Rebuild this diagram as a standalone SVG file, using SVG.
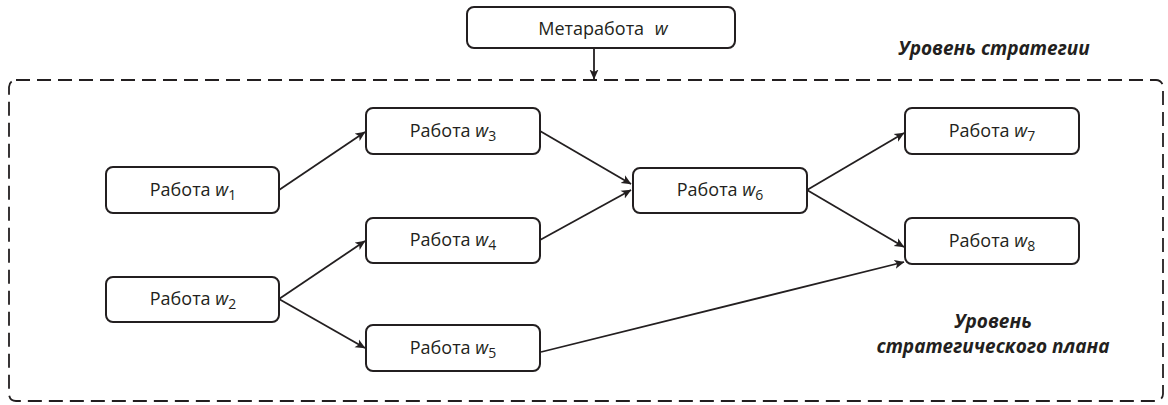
<svg xmlns="http://www.w3.org/2000/svg" width="1168" height="405" viewBox="0 0 1168 405">
<style>
.box{fill:#fff;stroke:#231f20;stroke-width:2}
.lbl{font-family:"Open Sans","Liberation Sans",sans-serif;font-size:18px;fill:#231f20}
.ital{font-style:italic}
.sub{font-size:14px}
.lvl{font-family:"Open Sans","Liberation Sans",sans-serif;font-size:19px;font-weight:bold;font-style:italic;fill:#231f20}
.con{stroke:#231f20;stroke-width:1.8;fill:none;marker-end:url(#ah)}
.frame{fill:none;stroke:#231f20;stroke-width:1.8;stroke-dasharray:14 7}
</style>
<defs>
<marker id="ah" viewBox="0 0 10 10" refX="9.5" refY="5" markerWidth="10" markerHeight="10" orient="auto" markerUnits="userSpaceOnUse">
<path d="M0,0.5 L10,5 L0,9.5 L2.5,5 Z" fill="#231f20"/>
</marker>
</defs>
<rect id="frame" class="frame" x="9" y="80" width="1154" height="321" rx="7"/>
<g id="connectors">
<line class="con" x1="594" y1="48" x2="594" y2="79"/>
<line class="con" x1="279" y1="190" x2="365" y2="132"/>
<line class="con" x1="279" y1="299" x2="365" y2="241"/>
<line class="con" x1="279" y1="299" x2="365" y2="348"/>
<line class="con" x1="540" y1="131" x2="631" y2="184"/>
<line class="con" x1="540" y1="240" x2="631" y2="190"/>
<line class="con" x1="807" y1="190" x2="904" y2="133"/>
<line class="con" x1="807" y1="190" x2="904" y2="247"/>
<line class="con" x1="541" y1="352" x2="904" y2="262"/>
</g>
<g id="meta">
<rect class="box" x="467" y="7" width="268" height="41" rx="7"/>
<text class="lbl" x="603" y="35" text-anchor="middle">Метаработа <tspan class="ital" dx="6">w</tspan></text>
</g>
<g id="w1">
<rect class="box" x="106" y="167" width="173" height="46" rx="7"/>
<text class="lbl" x="193" y="196" text-anchor="middle">Работа <tspan class="ital">w</tspan><tspan class="sub" dy="4">1</tspan></text>
</g>
<g id="w2">
<rect class="box" x="106" y="277" width="173" height="45" rx="7"/>
<text class="lbl" x="193" y="305" text-anchor="middle">Работа <tspan class="ital">w</tspan><tspan class="sub" dy="4">2</tspan></text>
</g>
<g id="w3">
<rect class="box" x="366" y="108" width="174" height="46" rx="7"/>
<text class="lbl" x="453" y="137" text-anchor="middle">Работа <tspan class="ital">w</tspan><tspan class="sub" dy="4">3</tspan></text>
</g>
<g id="w4">
<rect class="box" x="366" y="218" width="174" height="45" rx="7"/>
<text class="lbl" x="453" y="246" text-anchor="middle">Работа <tspan class="ital">w</tspan><tspan class="sub" dy="4">4</tspan></text>
</g>
<g id="w5">
<rect class="box" x="366" y="325" width="174" height="46" rx="7"/>
<text class="lbl" x="453" y="354" text-anchor="middle">Работа <tspan class="ital">w</tspan><tspan class="sub" dy="4">5</tspan></text>
</g>
<g id="w6">
<rect class="box" x="633" y="168" width="174" height="45" rx="7"/>
<text class="lbl" x="720" y="196" text-anchor="middle">Работа <tspan class="ital">w</tspan><tspan class="sub" dy="4">6</tspan></text>
</g>
<g id="w7">
<rect class="box" x="905" y="108" width="174" height="46" rx="7"/>
<text class="lbl" x="992" y="137" text-anchor="middle">Работа <tspan class="ital">w</tspan><tspan class="sub" dy="4">7</tspan></text>
</g>
<g id="w8">
<rect class="box" x="905" y="218" width="174" height="46" rx="7"/>
<text class="lbl" x="992" y="247" text-anchor="middle">Работа <tspan class="ital">w</tspan><tspan class="sub" dy="4">8</tspan></text>
</g>
<g id="levels">
<text class="lvl" x="994" y="55" text-anchor="middle">Уровень стратегии</text>
<text class="lvl" x="993" y="328" text-anchor="middle">Уровень</text>
<text class="lvl" x="993" y="353" text-anchor="middle">стратегического плана</text>
</g>
</svg>
